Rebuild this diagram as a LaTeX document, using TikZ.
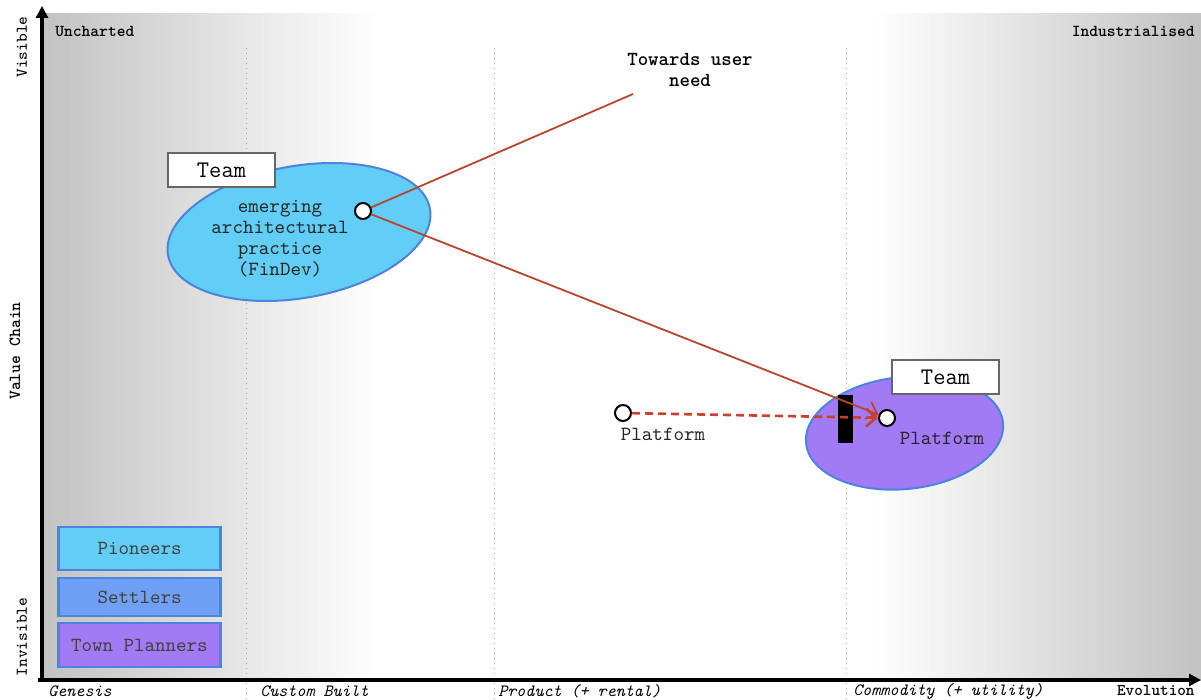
\documentclass[tikz,border=0pt]{standalone}
\usepackage{fontspec}
\renewcommand*\familydefault{\ttdefault}
\usetikzlibrary{shapes.geometric,arrows.meta}
\definecolor{pio}{HTML}{62CEF7}
\definecolor{set}{HTML}{6FA0F5}
\definecolor{town}{HTML}{A27AF5}
\definecolor{edgeblue}{HTML}{4C84DC}
\definecolor{link}{HTML}{B8452F}
\definecolor{dlink}{HTML}{C8402E}
\definecolor{shade}{HTML}{C2C2C2}
\tikzset{
  lbl/.style={font=\fontsize{8.35pt}{9pt}\selectfont\bfseries, inner sep=0pt},
  stage/.style={font=\fontsize{8.6pt}{9pt}\selectfont\itshape, anchor=west, inner sep=0pt},
  side/.style={font=\fontsize{8.2pt}{9pt}\selectfont, rotate=90, inner sep=0pt},
  teambox/.style={draw=gray!80!black, fill=white, line width=0.6pt, minimum width=53.5pt, minimum height=17pt, inner sep=0pt, font=\fontsize{11.9pt}{13pt}\selectfont},
  comp/.style={circle, draw=black, fill=white, line width=1pt, minimum size=8pt, inner sep=0pt},
  blob/.style={ellipse, draw=edgeblue, line width=1pt, inner sep=0pt},
  legend/.style={draw=edgeblue, line width=1.2pt, minimum width=81pt, inner sep=0pt, font=\fontsize{10pt}{11pt}\selectfont, text=black!75},
  body/.style={font=\fontsize{10.05pt}{10.5pt}\selectfont, align=center, inner sep=0pt, text=black!85},
  divider/.style={draw=gray!70, dotted, line width=0.5pt},
}
\begin{document}
\begin{tikzpicture}[x=0.5pt,y=-0.5pt]
\useasboundingbox (0,0) rectangle (1201,700);
% background shading
\shade[left color=shade, right color=white] (42,14) rectangle (380,680);
\fill[white] (380,14) rectangle (870,680);
\shade[left color=white, right color=shade] (870,14) rectangle (1201,680);
% dividers
\draw[divider] (246,48) -- (246,700);
\draw[divider] (494,48) -- (494,700);
\draw[divider] (846,48) -- (846,700);
% axes
\coordinate (origin) at (42,680);
\coordinate (ytop) at (42,6);
\coordinate (xend) at (1201,680);
\draw[line width=1.6pt, -{Triangle[length=6pt,width=6pt]}] (42,682) -- (ytop);
\draw[line width=1.6pt, -{Triangle[length=6pt,width=6pt]}] (38,680) -- (xend);
% axis labels
\node[lbl, anchor=west] (unch) at (55,31) {Uncharted};
\node[lbl, anchor=east] (ind) at (1195,31) {Industrialised};
\node[side] (vis) at (22,47) {Visible};
\node[side] (invis) at (22,637) {Invisible};
\node[side, font=\fontsize{8.45pt}{9pt}\selectfont\bfseries] (vc) at (15,351) {Value Chain};
\node[stage] (gen) at (48,691) {Genesis};
\node[stage] (cb) at (260,691) {Custom Built};
\node[stage] (prod) at (498,691) {Product (+ rental)};
\node[stage] (comm) at (853,691) {Commodity (+ utility)};
\node[lbl, anchor=east, font=\fontsize{8.2pt}{9pt}\selectfont\bfseries] (evo) at (1195,691) {Evolution};
% team blobs
\node[blob, fill=pio, minimum width=133pt, minimum height=66pt, rotate=10] (e1) at (299,232) {};
\node[teambox] (t1) at (221.5,170) {Team};
\node[body] (prac) at (280,239) {emerging\\architectural\\practice\\(FinDev)};
\node[blob, fill=town, minimum width=99pt, minimum height=56pt, rotate=6] (e2) at (904.5,433) {};
\node[teambox] (t2) at (945.5,377) {Team};
\fill[black] (838,395) rectangle (853,443);
% components
\node[comp] (c1) at (363,211) {};
\node[comp] (c2) at (887,418) {};
\node[comp] (c3) at (623,413) {};
\node[body] (pl2) at (942,438) {Platform};
\node[body] (pl3) at (663,434) {Platform};
\node[font=\fontsize{9.95pt}{10.5pt}\selectfont\bfseries, align=center, inner sep=0pt] (need) at (690,70) {Towards user\\need};
\coordinate (needend) at (633,94);
% links
\draw[link, line width=0.9pt] (c1) -- (needend);
\draw[link, line width=0.9pt, -{Straight Barb[length=5pt,width=9pt]}] (c1) -- (c2);
\draw[dlink, line width=1.3pt, dash pattern=on 4pt off 2.5pt, -{Straight Barb[length=5pt,width=9pt]}] (c3) -- (c2);
% legend
\node[legend, fill=pio, minimum height=21.5pt] (lp) at (139.5,548.5) {Pioneers};
\node[legend, fill=set, minimum height=19pt] (ls) at (139.5,597) {Settlers};
\node[legend, fill=town, minimum height=22pt] (lt) at (139.5,645) {Town Planners};
\end{tikzpicture}
\end{document}
